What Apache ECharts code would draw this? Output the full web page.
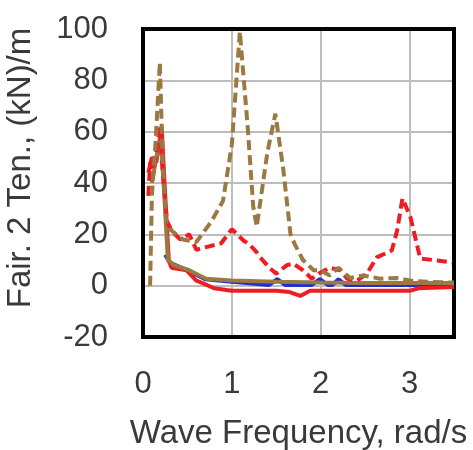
<!DOCTYPE html>
<html>
<head>
<meta charset="utf-8">
<script src="https://cdn.jsdelivr.net/npm/echarts@6/dist/echarts.min.js"></script>
<style>
html,body{margin:0;padding:0;background:#fff;}
#c{width:473px;height:450px;}
</style>
</head>
<body>
<div id="c"></div>
<script>
// Tick labels
var xTicks = [0, 1, 2, 3];
var yTicks = [-20, 0, 20, 40, 60, 80, 100];

// Brown dashed
var bdX = [0.08, 0.10, 0.14, 0.19, 0.22, 0.26, 0.30, 0.45, 0.60, 0.77, 0.90, 1.00, 1.09, 1.18, 1.24, 1.28, 1.40, 1.49, 1.58, 1.66, 1.71, 1.80, 1.92, 2.00, 2.10, 2.20, 2.33, 2.48, 2.67, 2.86, 3.00, 3.20, 3.50];
var bdY = [0, 35, 55, 87, 50, 25, 22, 18, 17, 25, 33, 55, 99, 61, 31, 23, 52, 67, 45, 20, 16, 10, 6, 6, 4, 7, 3, 4, 2.7, 3, 2, 1.5, 1.2];

// Red dashed
var rdX = [0.06, 0.08, 0.12, 0.19, 0.22, 0.27, 0.33, 0.42, 0.52, 0.60, 0.71, 0.88, 1.00, 1.13, 1.20, 1.28, 1.32, 1.43, 1.50, 1.62, 1.69, 1.80, 1.90, 1.98, 2.10, 2.22, 2.30, 2.41, 2.52, 2.63, 2.80, 2.86, 2.92, 3.01, 3.09, 3.12, 3.31, 3.48];
var rdY = [35, 48, 45, 62, 45, 25, 21, 18, 20, 14, 15, 16.5, 22, 17.6, 16, 13, 11, 6.7, 4.7, 8, 8.6, 6, 2.7, 4.7, 7, 6, 2.7, 2, 4.7, 11, 13.7, 21.5, 34, 26.7, 15, 10.6, 9.8, 9];

// Red solid
var rsX = [0.06, 0.10, 0.15, 0.21, 0.25, 0.29, 0.32, 0.49, 0.60, 0.67, 0.80, 0.90, 1.00, 1.50, 1.65, 1.77, 1.88, 2.50, 3.00, 3.10, 3.50];
var rsY = [44, 50, 48, 62, 35, 10, 7, 6, 2, 1, -1, -1.5, -2, -2, -2.5, -4, -2, -2, -2, -1, -0.5];

// Brown solid
var bsX = [0.10, 0.15, 0.20, 0.24, 0.28, 0.35, 0.52, 0.71, 1.00, 1.50, 2.00, 2.50, 3.00, 3.50];
var bsY = [40, 50, 58, 35, 10, 8, 6, 2.7, 2, 1.5, 1.2, 1, 1, 1];

// Blue solid
var blX = [0.25, 0.30, 0.50, 0.70, 1.00, 1.42, 1.51, 1.60, 1.90, 1.99, 2.08, 2.13, 2.20, 2.28, 3.50];
var blY = [12, 9, 6, 2.5, 1.5, 0.3, 2.5, 0.3, 0.3, 2.5, 0.3, 0.3, 2.5, 0.3, 0.3];

function zip(xs, ys){ return xs.map(function(x,i){ return [x, ys[i]]; }); }

var FONT = '"Liberation Sans", Arial, sans-serif';
var TXT = '#3a3a3a';
var BROWN = '#9a7a42';
var RED = '#f01c24';
var BLUE = '#1f2fd6';
var EDGE = {show: true, onZero: false, lineStyle: {color: '#000', width: 4, cap: 'square'}};

var chart = echarts.init(document.getElementById('c'));
chart.setOption({
  animation: false,
  backgroundColor: '#fff',
  grid: {left: 143, right: 19, top: 29, bottom: 113, outerBoundsMode: 'none', containLabel: false},
  xAxis: [{
    type: 'value', min: 0, max: 3.5, interval: 1, position: 'bottom',
    name: 'Wave Frequency, rad/s', nameLocation: 'middle', nameGap: 80,
    nameTextStyle: {fontFamily: FONT, fontSize: 33, color: TXT},
    axisLine: EDGE, axisTick: {show: false},
    axisLabel: {fontFamily: FONT, fontSize: 31, color: TXT, margin: 32,
      formatter: function(v){ return xTicks.indexOf(v) >= 0 ? String(v) : ''; }},
    splitLine: {show: true, lineStyle: {color: '#bdbdbd', width: 2}}
  }, {
    type: 'value', min: 0, max: 3.5, interval: 1, position: 'top',
    axisLine: EDGE, axisTick: {show: false}, axisLabel: {show: false}, splitLine: {show: false}
  }],
  yAxis: [{
    type: 'value', min: -20, max: 100, interval: 20, position: 'left',
    name: 'Fair. 2 Ten., (kN)/m', nameLocation: 'middle', nameGap: 106,
    nameTextStyle: {fontFamily: FONT, fontSize: 33, color: TXT, padding: [0, 0, 0, 30]},
    axisLine: EDGE, axisTick: {show: false},
    axisLabel: {fontFamily: FONT, fontSize: 31, color: TXT, margin: 35,
      formatter: function(v){ return yTicks.indexOf(v) >= 0 ? String(v) : ''; }},
    splitLine: {show: true, lineStyle: {color: '#bdbdbd', width: 2}}
  }, {
    type: 'value', min: -20, max: 100, interval: 20, position: 'right',
    axisLine: EDGE, axisTick: {show: false}, axisLabel: {show: false}, splitLine: {show: false}
  }],
  series: [
    {type: 'line', data: zip(blX, blY), showSymbol: false, lineStyle: {color: BLUE, width: 4}, z: 1},
    {type: 'line', data: zip(rsX, rsY), showSymbol: false, lineStyle: {color: RED, width: 4}, z: 2},
    {type: 'line', data: zip(bsX, bsY), showSymbol: false, lineStyle: {color: BROWN, width: 4}, z: 3},
    {type: 'line', data: zip(rdX, rdY), showSymbol: false, lineStyle: {color: RED, width: 4, type: [10, 5]}, z: 4},
    {type: 'line', data: zip(bdX, bdY), showSymbol: false, lineStyle: {color: BROWN, width: 4, type: [10, 5]}, z: 5}
  ]
});
</script>
</body>
</html>
